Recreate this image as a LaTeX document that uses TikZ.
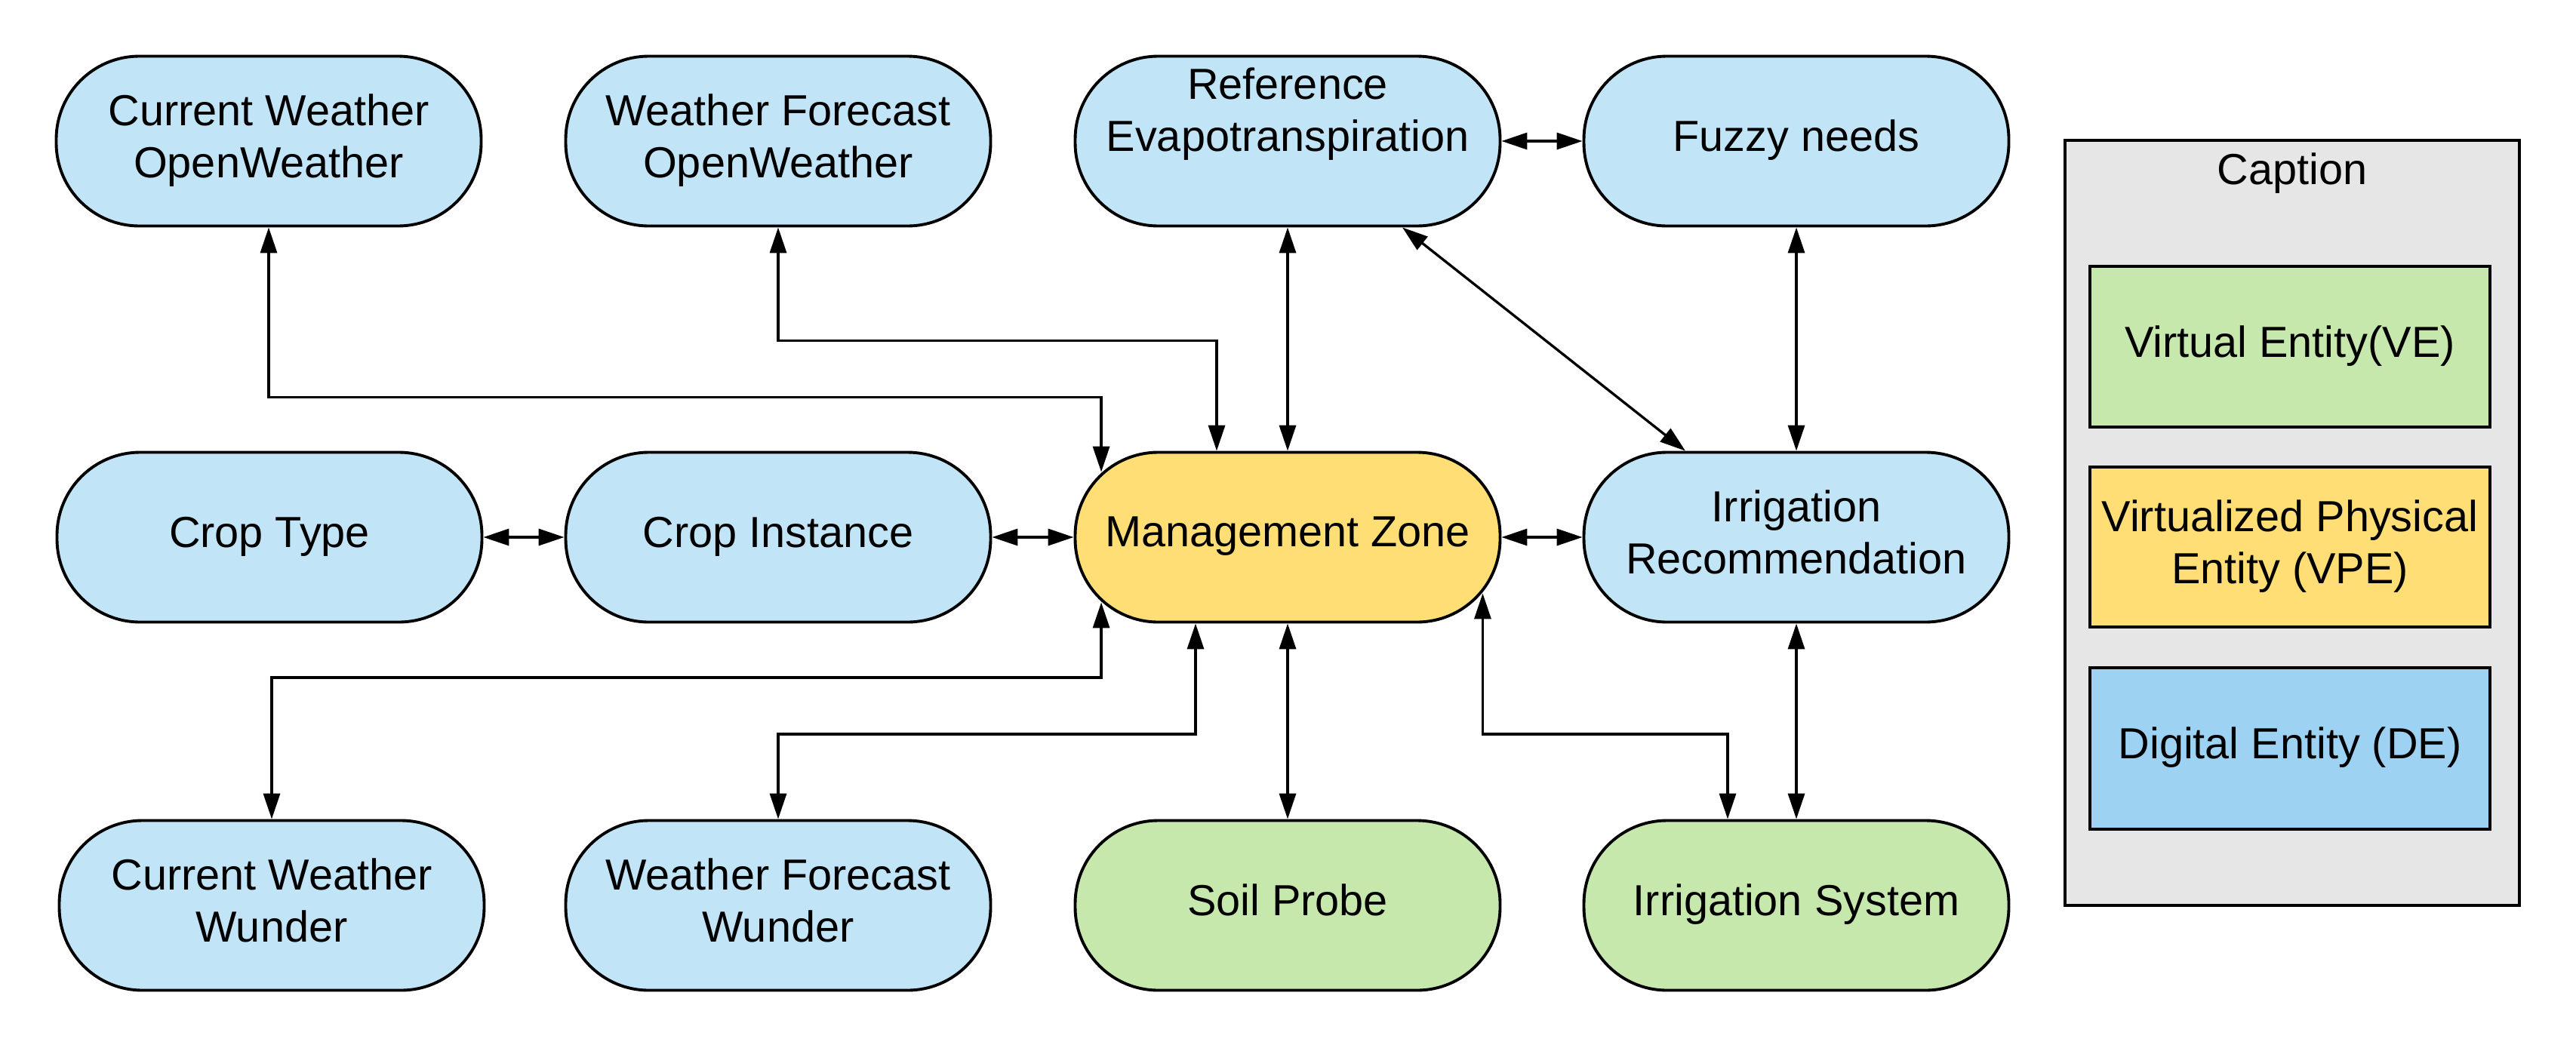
\documentclass[tikz,border=0pt]{standalone}
\usepackage{fontspec}
\setmainfont{Liberation Sans}
\usetikzlibrary{arrows.meta,calc}
\definecolor{entblue}{RGB}{193,228,246}
\definecolor{entyellow}{RGB}{255,222,117}
\definecolor{entgreen}{RGB}{199,232,173}
\definecolor{capgray}{RGB}{230,230,230}
\definecolor{deblue}{RGB}{157,210,242}
\tikzset{
  txt/.style={font=\fontsize{16.4pt}{19.7pt}\selectfont, text depth=0.14cm},
  ent/.style={txt, draw, line width=1.1pt, rounded corners=1.1cm, minimum width=5.63cm,
    minimum height=2.25cm, inner sep=0pt, align=center},
  debox/.style={ent, fill=entblue},
  vpebox/.style={ent, fill=entyellow},
  vebox/.style={ent, fill=entgreen},
  legbox/.style={txt, draw, line width=0.9pt, minimum width=5.30cm, inner sep=0pt,
    align=center},
  link/.style={line width=0.95pt,
    {Triangle[length=3.4mm,width=2.2mm]}-{Triangle[length=3.4mm,width=2.2mm]}},
}
\begin{document}
\begin{tikzpicture}
\useasboundingbox (0,0) rectangle (34.13,-13.88);
% row 1
\node[debox] (cwo) at (3.56,-1.87) {Current Weather\\OpenWeather};
\node[debox] (wfo) at (10.31,-1.87) {Weather Forecast\\OpenWeather};
\node[debox] (ref) at (17.06,-1.87) {Reference\\Evapotranspiration\\\phantom{X}};
\node[debox] (fuz) at (23.80,-1.87) {Fuzzy needs};
% row 2
\node[debox] (ct) at (3.57,-7.12) {Crop Type};
\node[debox] (ci) at (10.31,-7.12) {Crop Instance};
\node[vpebox] (mz) at (17.06,-7.12) {Management Zone};
\node[debox] (ir) at (23.80,-7.12) {Irrigation\\Recommendation};
% row 3
\node[debox] (cww) at (3.60,-12.00) {Current Weather\\Wunder};
\node[debox] (wfw) at (10.31,-12.00) {Weather Forecast\\Wunder};
\node[vebox] (sp) at (17.06,-12.00) {Soil Probe};
\node[vebox] (is) at (23.80,-12.00) {Irrigation System};
% caption
\node[draw, fill=capgray, line width=0.9pt, minimum width=6.02cm, minimum height=10.14cm,
  inner sep=0pt] (cap) at (30.37,-6.93) {};
\node[txt] (captitle) at (30.37,-2.31) {Caption};
\node[legbox, fill=entgreen, minimum height=2.13cm] (lve) at (30.34,-4.595) {Virtual Entity(VE)};
\node[legbox, fill=entyellow, minimum height=2.12cm] (lvpe) at (30.34,-7.25) {Virtualized Physical\\Entity (VPE)};
\node[legbox, fill=deblue, minimum height=2.14cm] (lde) at (30.34,-9.92) {Digital Entity (DE)};
% connectors
\draw[link] (cwo.south) -- ++(0,-2.25) -| ($(mz.north west)+(0.365,-0.28)$);
\draw[link] (wfo.south) -- ++(0,-1.5) -| ($(mz.north)+(-0.94,0)$);
\draw[link] (ref.south) -- (mz.north);
\draw[link] (ref.east) -- (fuz.west);
\draw[link] ($(ref.south)+(1.52,0)$) -- ($(ir.north)+(-1.47,0)$);
\draw[link] (fuz.south) -- (ir.north);
\draw[link] (ct.east) -- (ci.west);
\draw[link] (ci.east) -- (mz.west);
\draw[link] (mz.east) -- (ir.west);
\draw[link] (cww.north) -- ++(0,1.875) -| ($(mz.south west)+(0.365,0.28)$);
\draw[link] (wfw.north) -- ++(0,1.125) -| ($(mz.south)+(-1.22,0)$);
\draw[link] (sp.north) -- (mz.south);
\draw[link] ($(is.north)+(-0.91,0)$) -- ++(0,1.125) -| ($(mz.south east)+(-0.25,0.40)$);
\draw[link] (ir.south) -- (is.north);
\end{tikzpicture}
\end{document}
